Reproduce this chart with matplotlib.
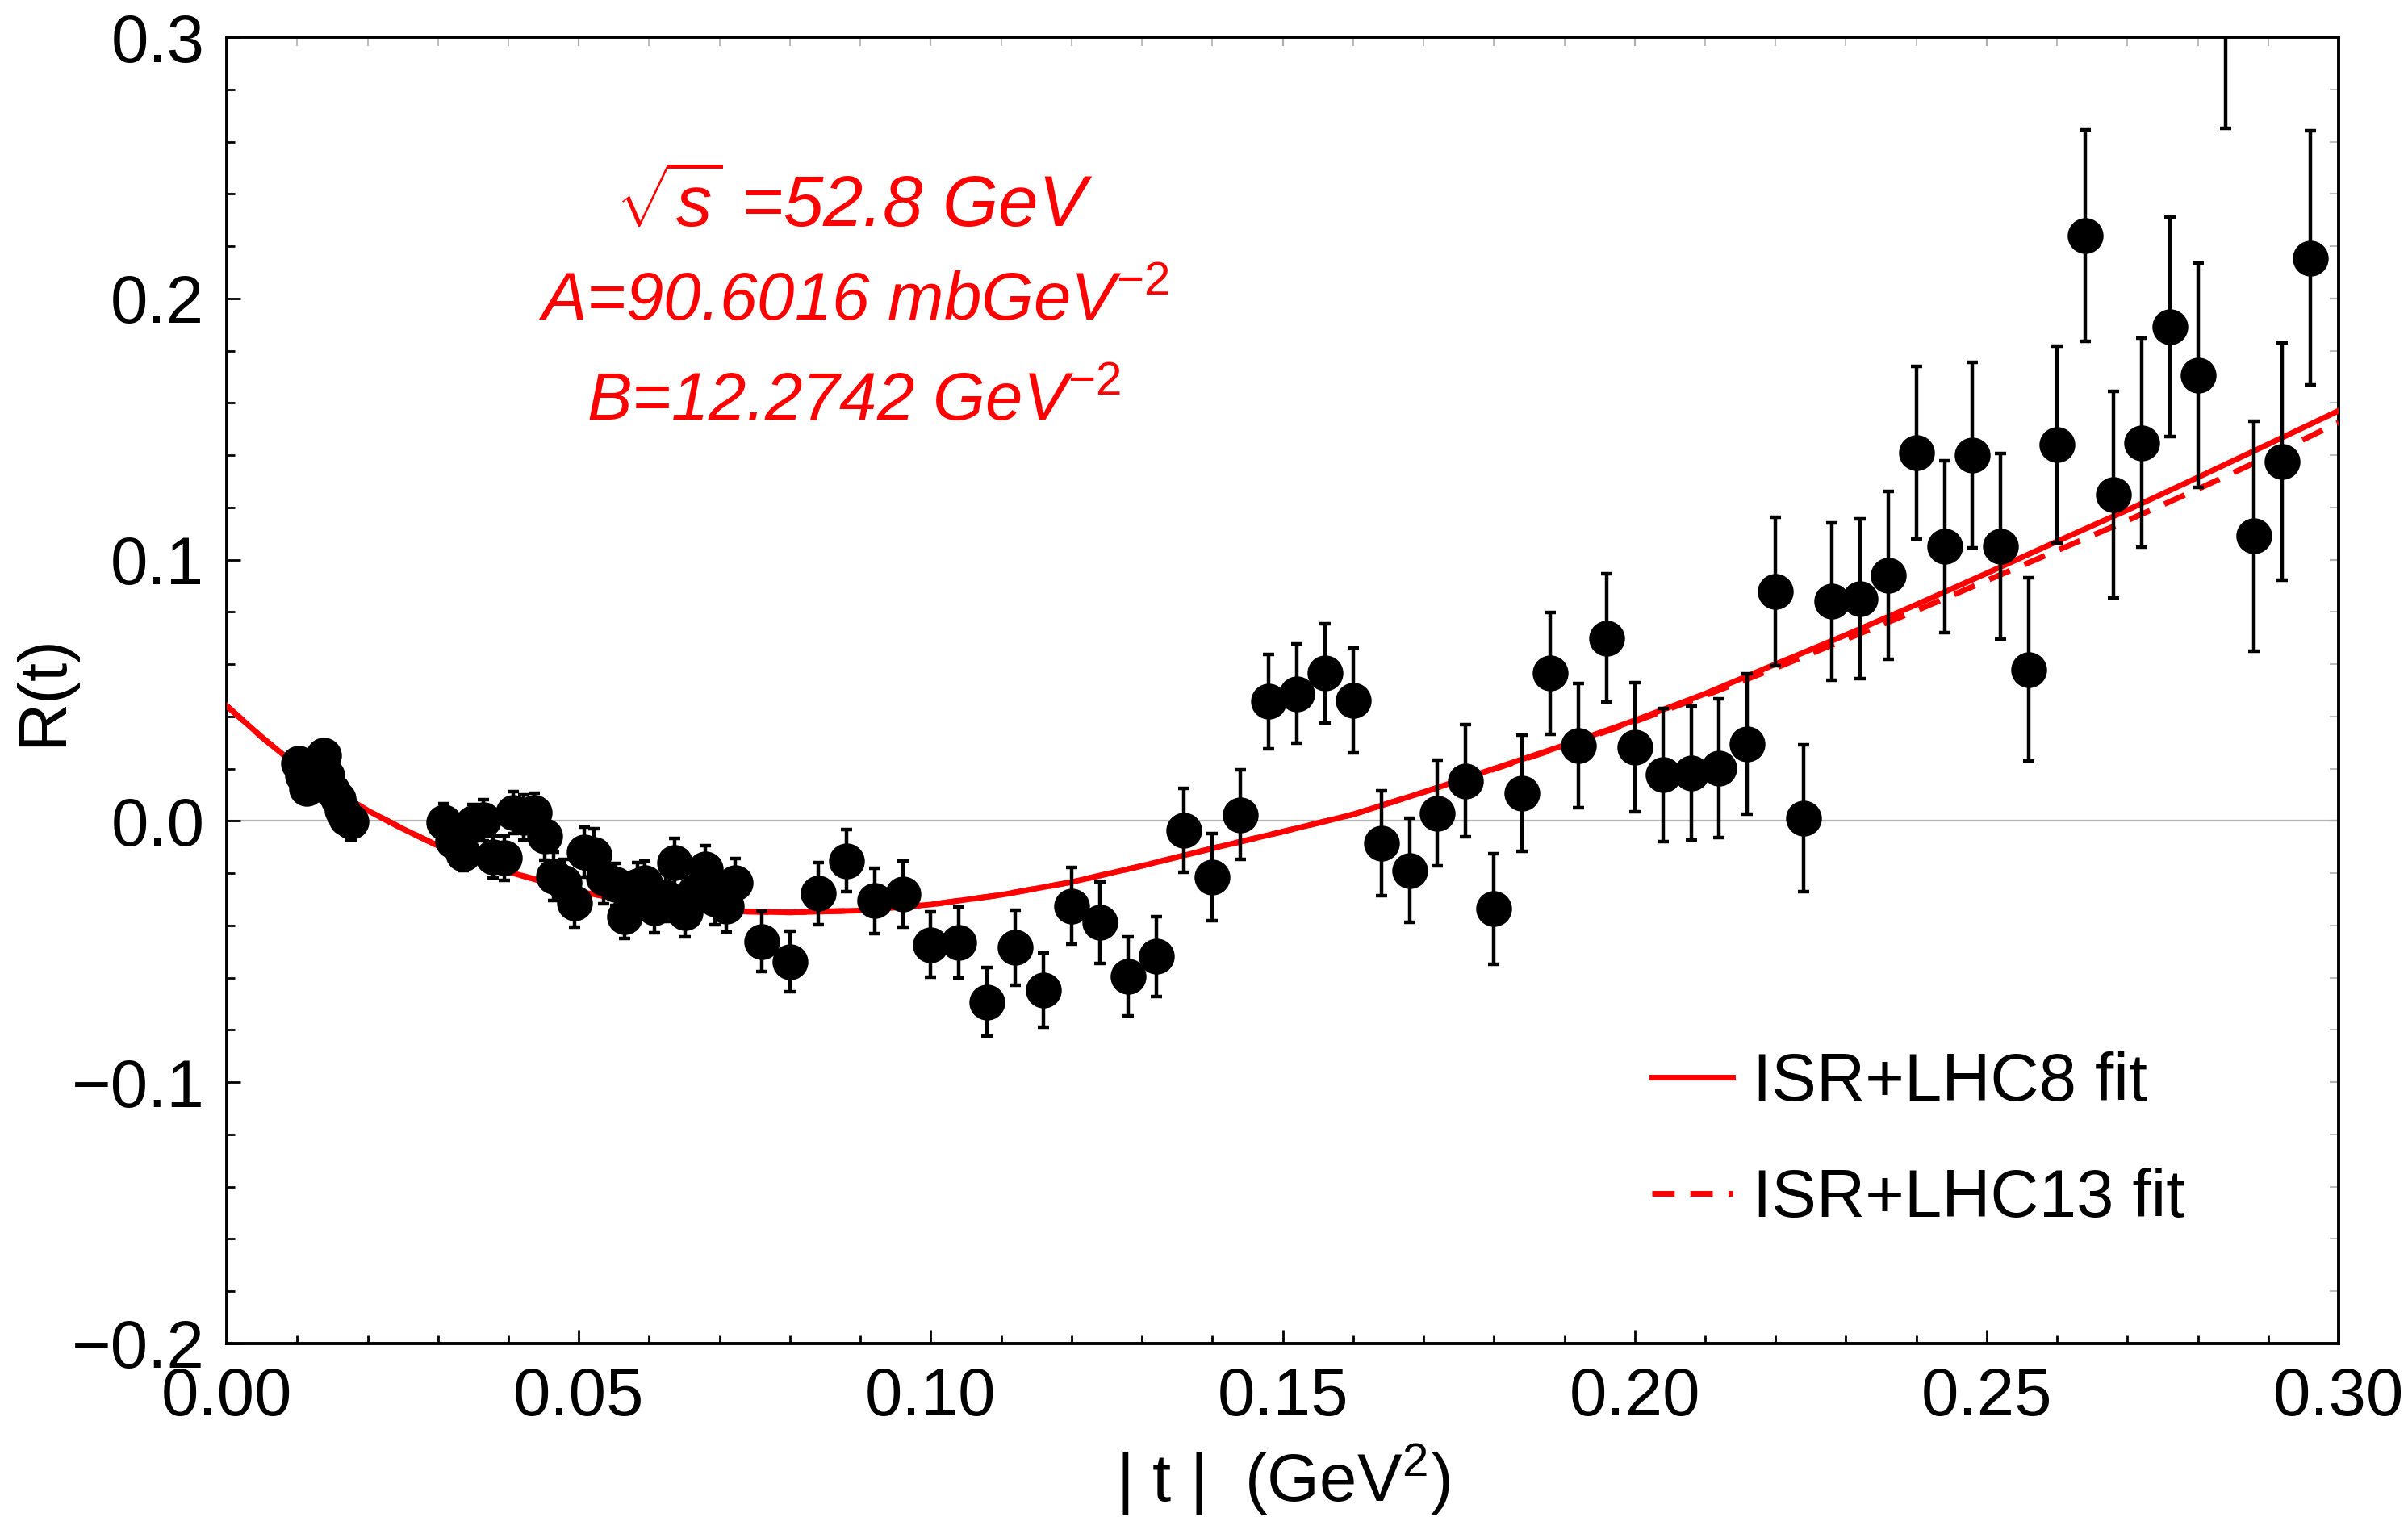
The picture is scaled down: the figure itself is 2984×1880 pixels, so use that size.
import matplotlib
matplotlib.use("Agg")
import matplotlib.pyplot as plt
from matplotlib.ticker import MultipleLocator, FuncFormatter

plt.rcParams['font.family'] = ['Liberation Sans', 'DejaVu Sans']
plt.rcParams['mathtext.fontset'] = 'custom'
plt.rcParams['mathtext.rm'] = 'Liberation Sans'
plt.rcParams['mathtext.it'] = 'Liberation Sans:italic'

# data: |t| (GeV^2), R(t), error
t_data = [0.0102, 0.0108, 0.0113, 0.0120, 0.0130, 0.0138, 0.0142, 0.0150, 0.0158, 0.0164, 0.0170, 0.0176,
          0.0308, 0.0321, 0.0336, 0.0350, 0.0365, 0.0378, 0.0394, 0.0407, 0.0422, 0.0437, 0.0451, 0.0464,
          0.0479, 0.0494, 0.0508, 0.0522, 0.0535, 0.0552, 0.0565, 0.0583, 0.0594, 0.0607, 0.0623, 0.0636,
          0.0651, 0.0665, 0.0680, 0.0693, 0.0709, 0.0722,
          0.076, 0.080, 0.084, 0.088, 0.092, 0.096, 0.100, 0.104, 0.108, 0.112, 0.116, 0.120, 0.124, 0.128,
          0.132, 0.136, 0.140, 0.144, 0.148, 0.152, 0.156, 0.160, 0.164, 0.168, 0.172, 0.176, 0.180, 0.184,
          0.188, 0.192, 0.196, 0.200, 0.204, 0.208, 0.212, 0.216, 0.220, 0.224, 0.228, 0.232, 0.236, 0.240,
          0.244, 0.248, 0.252, 0.256, 0.260, 0.264, 0.268, 0.272, 0.276, 0.280, 0.284, 0.288, 0.292, 0.296]
r_data = [0.0222, 0.0175, 0.0125, 0.0150, 0.0200, 0.0250, 0.0175, 0.0115, 0.0085, 0.0040, 0.0010, -0.0003,
          -0.0005, -0.0075, -0.0124, -0.0007, 0.0003, -0.0139, -0.0142, 0.0032, 0.0013, 0.0032, -0.0056, -0.0212,
          -0.0237, -0.0315, -0.0119, -0.0129, -0.0218, -0.0243, -0.0365, -0.0248, -0.0238, -0.0331, -0.0292, -0.0160,
          -0.0351, -0.0272, -0.0184, -0.0297, -0.0326, -0.0238,
          -0.0461, -0.0538, -0.0278, -0.0152, -0.0306, -0.0280, -0.0473, -0.0466, -0.0693, -0.0485, -0.0646, -0.0325,
          -0.0389, -0.0595, -0.0518, -0.0035, -0.0215, 0.0024, 0.0457, 0.0487, 0.0565, 0.0462, -0.0086, -0.0189,
          0.0030, 0.0154, -0.0337, 0.0107, 0.0565, 0.0288, 0.0700, 0.0282, 0.0177, 0.0183, 0.0202, 0.0294,
          0.0878, 0.0010, 0.0840, 0.0850, 0.0940, 0.1410, 0.1050, 0.1400, 0.1050, 0.0580, 0.1440, 0.2240,
          0.1250, 0.1448, 0.1890, 0.1706, 0.3100, 0.1090, 0.1376, 0.2155]
e_data = [0.004, 0.004, 0.004, 0.004, 0.005, 0.005, 0.005, 0.005, 0.005, 0.006, 0.006, 0.007,
          0.007, 0.007, 0.0065, 0.007, 0.008, 0.008, 0.0085, 0.008, 0.0086, 0.0075, 0.0095, 0.0093,
          0.009, 0.0093, 0.0095, 0.0098, 0.010, 0.008, 0.0085, 0.009, 0.0085, 0.0098, 0.0093, 0.0092,
          0.0093, 0.0095, 0.0088, 0.010, 0.010, 0.0095,
          0.0115, 0.0115, 0.0118, 0.0119, 0.0126, 0.0127, 0.0126, 0.0136, 0.0131, 0.0144, 0.0142, 0.0146,
          0.0156, 0.0152, 0.0153, 0.0161, 0.0168, 0.0171, 0.018, 0.019, 0.019, 0.020, 0.020, 0.0198,
          0.0202, 0.0215, 0.0213, 0.0223, 0.0232, 0.0237, 0.0246, 0.0246, 0.0255, 0.0256, 0.0265, 0.0268,
          0.0283, 0.0280, 0.030, 0.0306, 0.032, 0.033, 0.033, 0.0355, 0.0355, 0.035, 0.0376, 0.0405,
          0.0395, 0.040, 0.042, 0.043, 0.045, 0.044, 0.0455, 0.0486]

# fit curves
t_fit = [0.000, 0.005, 0.010, 0.015, 0.020, 0.025, 0.030, 0.040, 0.050, 0.060, 0.070, 0.080, 0.090,
         0.100, 0.110, 0.120, 0.130, 0.140, 0.150, 0.160, 0.170, 0.180, 0.190, 0.200, 0.210, 0.220,
         0.230, 0.240, 0.250, 0.260, 0.270, 0.280, 0.290, 0.300]
r_lhc8 = [0.0440, 0.0320, 0.0210, 0.0120, 0.0040, -0.0030, -0.0095, -0.0195, -0.0270, -0.0320, -0.0345,
          -0.0350, -0.0343, -0.0320, -0.0283, -0.0234, -0.0172, -0.0105, -0.0041, 0.0025, 0.0110, 0.0200,
          0.0290, 0.0385, 0.0487, 0.0600, 0.0712, 0.0828, 0.0948, 0.1070, 0.1190, 0.1315, 0.1442, 0.1570]
r_lhc13 = [0.0440, 0.0320, 0.0210, 0.0120, 0.0040, -0.0030, -0.0095, -0.0195, -0.0270, -0.0320, -0.0345,
           -0.0350, -0.0343, -0.0320, -0.0283, -0.0234, -0.0172, -0.0105, -0.0041, 0.0025, 0.0110, 0.0198,
           0.0287, 0.0380, 0.0480, 0.0585, 0.0695, 0.0805, 0.0920, 0.1035, 0.1150, 0.1270, 0.1395, 0.1525]

fig = plt.figure(figsize=(14.92, 9.40), dpi=200)
ax = fig.add_axes([0.0942, 0.1144, 0.877, 0.8611])

ax.axhline(0, color='#b3b3b3', lw=0.8, zorder=0)
ax.plot(t_fit, r_lhc8, color='#ff0000', lw=2.5, label='ISR+LHC8 fit', zorder=3)
ax.plot(t_fit, r_lhc13, color='#ff0000', lw=2.5, ls=(0, (4, 2.8)), label='ISR+LHC13 fit', zorder=3)
ax.errorbar(t_data, r_data, yerr=e_data, fmt='o', color='black', ms=15, elinewidth=1.6,
            capsize=2.4, capthick=1.6, zorder=4)

ax.set_xlim(0, 0.30)
ax.set_ylim(-0.2, 0.3)
ax.xaxis.set_major_locator(MultipleLocator(0.05))
ax.xaxis.set_minor_locator(MultipleLocator(0.01))
ax.yaxis.set_major_locator(MultipleLocator(0.1))
ax.yaxis.set_minor_locator(MultipleLocator(0.02))
ax.xaxis.set_major_formatter(FuncFormatter(lambda v, p: f'{v:.2f}'))
ax.yaxis.set_major_formatter(FuncFormatter(lambda v, p: f'{v:.1f}'.replace('-', '\u2212')))
ax.tick_params(which='both', direction='in', labelsize=30, width=1.0, pad=10)
ax.tick_params(which='major', length=6)
ax.tick_params(which='minor', length=3.5)
for s in ax.spines.values():
    s.set_linewidth(1.4)

# grey ticks on top and right
axt = ax.secondary_xaxis('top')
axt.xaxis.set_major_locator(MultipleLocator(0.05))
axt.xaxis.set_minor_locator(MultipleLocator(0.01))
axt.tick_params(which='both', direction='in', labeltop=False, color='#b0b0b0', length=4)
axr = ax.secondary_yaxis('right')
axr.yaxis.set_major_locator(MultipleLocator(0.1))
axr.yaxis.set_minor_locator(MultipleLocator(0.02))
axr.tick_params(which='both', direction='in', labelright=False, color='#b0b0b0', length=4)

ax.set_xlabel(r'| t |  (GeV$^2$)', fontsize=30, labelpad=6)
ax.set_ylabel('R(t)', fontsize=30)
ax.yaxis.set_label_coords(-0.072, 0.5)

txt = [r'$\sqrt{s}$ =52.8 GeV', r'A=90.6016 mbGeV$^{-2}$', r'B=12.2742 GeV$^{-2}$']
ty = [0.870, 0.797, 0.720]
fs = [32, 30, 30]
for s, y, f in zip(txt, ty, fs):
    ax.text(0.297, y, s, transform=ax.transAxes, color='#ff0000', fontsize=f,
            style='italic', ha='center', va='center')

ax.legend(loc='center left', bbox_to_anchor=(0.646, 0.155), frameon=False, fontsize=30,
          handlelength=1.2, handletextpad=0.3, labelspacing=0.8)

fig.savefig('out.png', dpi=200)
